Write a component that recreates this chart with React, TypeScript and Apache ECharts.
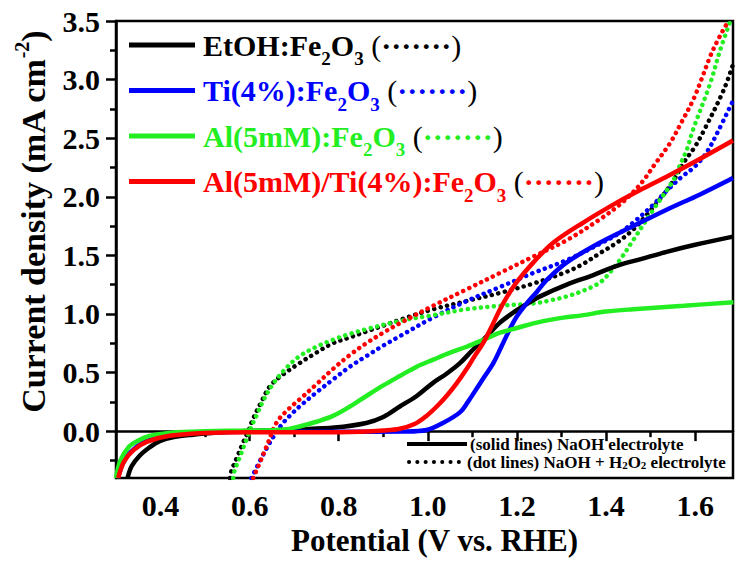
import React, { useEffect, useRef } from "react";
import * as echarts from "echarts";

const FONT = "'Liberation Serif', 'Times New Roman', serif";

const xMajorTicks = [0.4, 0.6, 0.8, 1.0, 1.2, 1.4, 1.6];
const xMinorTicks = [0.5, 0.7, 0.9, 1.1, 1.3, 1.5];
const yMajorTicks = [0.0, 0.5, 1.0, 1.5, 2.0, 2.5, 3.0, 3.5];
const yMinorTicks = [-0.25, 0.25, 0.75, 1.25, 1.75, 2.25, 2.75, 3.25];

const sampleNames = ["EtOH:Fe2O3", "Ti(4%):Fe2O3", "Al(5mM):Fe2O3", "Al(5mM)/Ti(4%):Fe2O3"];
const legendPrefix = ["EtOH:Fe", "Ti(4%):Fe", "Al(5mM):Fe", "Al(5mM)/Ti(4%):Fe"];
const colors = ["#000000", "#0000FF", "#22EE22", "#FF0000"];

// NaOH electrolyte (solid lines): [potential V vs RHE, current density mA cm^-2]
const etohNaOH = [
  [0.326, -0.4], [0.335, -0.3], [0.353, -0.21], [0.375, -0.14], [0.398, -0.085], [0.43, -0.05],
  [0.473, -0.03], [0.53, -0.012], [0.584, 0.0], [0.65, 0.008], [0.712, 0.015], [0.79, 0.03],
  [0.862, 0.07], [0.9, 0.12], [0.937, 0.21], [0.975, 0.3], [1.011, 0.41], [1.042, 0.49],
  [1.072, 0.58], [1.1, 0.69], [1.132, 0.81], [1.16, 0.92], [1.191, 1.01], [1.22, 1.08],
  [1.252, 1.15], [1.312, 1.25], [1.37, 1.33], [1.424, 1.41], [1.48, 1.47], [1.536, 1.53],
  [1.6, 1.59], [1.685, 1.66],
];
const tiNaOH = [
  [0.304, -0.4], [0.315, -0.28], [0.33, -0.19], [0.36, -0.1], [0.4, -0.05], [0.45, -0.02],
  [0.52, -0.008], [0.6, -0.005], [0.8, -0.005], [0.95, -0.003], [0.997, 0.01], [1.034, 0.07],
  [1.072, 0.16], [1.09, 0.25], [1.109, 0.36], [1.128, 0.47], [1.147, 0.58], [1.165, 0.72],
  [1.184, 0.87], [1.2, 0.98], [1.222, 1.09], [1.245, 1.19], [1.267, 1.29], [1.312, 1.44],
  [1.387, 1.61], [1.461, 1.75], [1.536, 1.89], [1.611, 2.02], [1.685, 2.16],
];
const alNaOH = [
  [0.3, -0.4], [0.31, -0.25], [0.33, -0.13], [0.35, -0.08], [0.375, -0.04], [0.41, -0.02],
  [0.435, -0.01], [0.5, 0.0], [0.6, 0.005], [0.68, 0.015], [0.712, 0.04], [0.75, 0.08],
  [0.787, 0.13], [0.825, 0.21], [0.862, 0.3], [0.9, 0.39], [0.937, 0.47], [0.975, 0.55],
  [1.012, 0.61], [1.05, 0.67], [1.087, 0.72], [1.125, 0.78], [1.162, 0.84], [1.2, 0.88],
  [1.237, 0.92], [1.29, 0.96], [1.349, 0.99], [1.4, 1.02], [1.461, 1.04], [1.574, 1.07],
  [1.686, 1.1],
];
const alTiNaOH = [
  [0.305, -0.4], [0.318, -0.26], [0.34, -0.16], [0.37, -0.09], [0.42, -0.04], [0.5, -0.015],
  [0.6, -0.01], [0.75, -0.01], [0.85, -0.005], [0.9, 0.005], [0.937, 0.02], [0.97, 0.06],
  [0.997, 0.13], [1.02, 0.21], [1.042, 0.3], [1.065, 0.41], [1.087, 0.53], [1.105, 0.64],
  [1.124, 0.75], [1.143, 0.89], [1.162, 1.04], [1.18, 1.16], [1.199, 1.27], [1.237, 1.44],
  [1.282, 1.61], [1.349, 1.78], [1.424, 1.95], [1.483, 2.07], [1.54, 2.18], [1.595, 2.29],
  [1.685, 2.48],
];

// NaOH + H2O2 electrolyte (dotted lines)
const etohH2O2 = [
  [0.556, -0.4], [0.559, -0.34], [0.572, -0.22], [0.585, -0.1], [0.597, 0.0], [0.607, 0.1],
  [0.625, 0.24], [0.645, 0.38], [0.67, 0.47], [0.712, 0.58], [0.75, 0.67], [0.787, 0.75],
  [0.825, 0.8], [0.862, 0.85], [0.9, 0.9], [0.937, 0.95], [1.012, 1.04], [1.087, 1.11],
  [1.162, 1.18], [1.237, 1.26], [1.312, 1.36], [1.35, 1.43], [1.387, 1.52], [1.425, 1.61],
  [1.461, 1.72], [1.49, 1.84], [1.521, 1.98], [1.55, 2.13], [1.574, 2.29], [1.6, 2.43],
  [1.619, 2.56], [1.664, 2.91], [1.685, 3.13],
];
const tiH2O2 = [
  [0.604, -0.4], [0.625, -0.24], [0.645, -0.1], [0.66, -0.01], [0.675, 0.07], [0.69, 0.13],
  [0.712, 0.21], [0.75, 0.33], [0.787, 0.44], [0.825, 0.55], [0.862, 0.64], [0.9, 0.73],
  [0.937, 0.81], [1.012, 0.97], [1.087, 1.11], [1.162, 1.23], [1.237, 1.35], [1.312, 1.46],
  [1.387, 1.6], [1.43, 1.69], [1.461, 1.78], [1.5, 1.91], [1.536, 2.05], [1.57, 2.17],
  [1.6, 2.26], [1.626, 2.38], [1.649, 2.54], [1.685, 2.82],
];
const alH2O2 = [
  [0.563, -0.4], [0.566, -0.34], [0.58, -0.2], [0.593, -0.07], [0.603, 0.03], [0.615, 0.13],
  [0.632, 0.27], [0.652, 0.4], [0.68, 0.53], [0.712, 0.64], [0.75, 0.72], [0.787, 0.78],
  [0.825, 0.83], [0.862, 0.87], [0.937, 0.94], [1.012, 0.99], [1.087, 1.04], [1.162, 1.07],
  [1.237, 1.09], [1.28, 1.12], [1.312, 1.15], [1.35, 1.2], [1.387, 1.27], [1.41, 1.36],
  [1.431, 1.46], [1.461, 1.63], [1.506, 1.89], [1.551, 2.14], [1.566, 2.27], [1.581, 2.4],
  [1.596, 2.58], [1.634, 2.97], [1.656, 3.25], [1.679, 3.5],
];
const alTiH2O2 = [
  [0.608, -0.4], [0.625, -0.25], [0.638, -0.13], [0.66, 0.07], [0.685, 0.18], [0.712, 0.27],
  [0.75, 0.4], [0.787, 0.53], [0.825, 0.65], [0.862, 0.75], [0.9, 0.84], [0.937, 0.92],
  [1.012, 1.07], [1.087, 1.21], [1.162, 1.35], [1.237, 1.49], [1.312, 1.63], [1.387, 1.81],
  [1.43, 1.93], [1.461, 2.04], [1.484, 2.14], [1.51, 2.28], [1.544, 2.46], [1.57, 2.64],
  [1.596, 2.83], [1.615, 3.01], [1.634, 3.2], [1.65, 3.33], [1.664, 3.43], [1.675, 3.5],
];

const solidData = [etohNaOH, tiNaOH, alNaOH, alTiNaOH];
const dottedData = [etohH2O2, tiH2O2, alH2O2, alTiH2O2];

const legendRowsY = [45, 90.5, 136, 181.5];

export default function App() {
  const ref = useRef<HTMLDivElement>(null);

  useEffect(() => {
    if (!ref.current) return;
    const chart = echarts.init(ref.current, null, { renderer: "svg" });

    const dottedSeries = dottedData.map((d, i) => ({
      name: sampleNames[i] + " (NaOH + H2O2)",
      type: "line",
      data: d,
      showSymbol: false,
      smooth: 0.35,
      z: 2,
      lineStyle: { color: colors[i], width: 4.5, type: [0.1, 6.5], cap: "round" },
    }));
    const solidSeries = solidData.map((d, i) => ({
      name: sampleNames[i] + " (NaOH)",
      type: "line",
      data: d,
      showSymbol: false,
      smooth: 0.35,
      z: 3,
      lineStyle: { color: colors[i], width: 4.5 },
    }));

    const graphics: any[] = [];
    legendRowsY.forEach((y, i) => {
      graphics.push({
        type: "line",
        shape: { x1: 129, y1: y, x2: 195, y2: y },
        style: { stroke: colors[i], lineWidth: 5 },
        z: 10,
      });
      graphics.push({
        type: "text",
        x: 203,
        y: y,
        z: 10,
        style: {
          text: `{m|${legendPrefix[i]}}{s|2}{m|O}{s|3}{g| }{p|(}{d|·······}{p|)}`,
          verticalAlign: "middle",
          fontFamily: FONT,
          fontSize: 30,
          rich: {
            m: { fill: colors[i], fontSize: 30, fontWeight: "bold", fontFamily: FONT },
            s: { fill: colors[i], fontSize: 19, fontWeight: "bold", fontFamily: FONT, padding: [27, 0, 0, 0] },
            g: { fill: "#000", fontSize: 30, fontFamily: FONT },
            p: { fill: "#000", fontSize: 30, fontWeight: "normal", fontFamily: FONT },
            d: { fill: colors[i], fontSize: 30, fontWeight: "bold", fontFamily: FONT },
          },
        },
      });
    });

    // Y axis title
    graphics.push({
      type: "text",
      x: 33,
      y: 222,
      rotation: Math.PI / 2,
      z: 10,
      style: {
        text: "{t|Current density (mA cm}{sup|-2}{t|)}",
        align: "center",
        verticalAlign: "middle",
        fontFamily: FONT,
        fontSize: 34,
        rich: {
          t: { fill: "#000", fontFamily: FONT, fontWeight: "bold", fontSize: 34 },
          sup: { fill: "#000", fontFamily: FONT, fontWeight: "bold", fontSize: 20, padding: [0, 0, 22, 0] },
        },
      },
    });

    // Electrolyte key (bottom right)
    graphics.push({
      type: "line",
      shape: { x1: 407, y1: 444, x2: 467, y2: 444 },
      style: { stroke: "#000", lineWidth: 4 },
      z: 10,
    });
    graphics.push({
      type: "line",
      shape: { x1: 409, y1: 462, x2: 459, y2: 462 },
      style: { stroke: "#000", lineWidth: 4, lineDash: [0.1, 8.2], lineCap: "round" },
      z: 10,
    });
    graphics.push({
      type: "text",
      x: 470,
      y: 444,
      z: 10,
      style: {
        text: "(solid lines) NaOH electrolyte",
        verticalAlign: "middle",
        fill: "#000",
        fontFamily: FONT,
        fontWeight: "bold",
        fontSize: 17,
      },
    });
    graphics.push({
      type: "text",
      x: 467,
      y: 462,
      z: 10,
      style: {
        text: "{n|(dot lines) NaOH + H}{s|2}{n|O}{s|2}{n| electrolyte}",
        verticalAlign: "middle",
        fontFamily: FONT,
        fontSize: 17,
        rich: {
          n: { fill: "#000", fontSize: 17, fontWeight: "bold", fontFamily: FONT },
          s: { fill: "#000", fontSize: 11, fontWeight: "bold", fontFamily: FONT, padding: [6, 0, 0, 0] },
        },
      },
    });

    const axisLineStyle = { color: "#000", width: 2.5 };
    const labelStyle = { color: "#000", fontFamily: FONT, fontWeight: "bold" as const, fontSize: 30 };

    chart.setOption({
      animation: false,
      backgroundColor: "#fff",
      grid: {
        left: 116,
        right: 2,
        top: 21,
        bottom: 91,
        show: true,
        borderColor: "#000",
        borderWidth: 2.5,
        backgroundColor: "transparent",
      },
      xAxis: [
        {
          type: "value",
          min: 0.3,
          max: 1.685,
          position: "bottom",
          splitLine: { show: false },
          axisLine: { show: true, lineStyle: axisLineStyle },
          axisTick: { show: true, customValues: xMajorTicks, length: 10, lineStyle: axisLineStyle },
          axisLabel: {
            customValues: xMajorTicks,
            formatter: (v: number) => v.toFixed(1),
            margin: 12,
            ...labelStyle,
          },
          name: "Potential (V vs. RHE)",
          nameLocation: "middle",
          nameGap: 41,
          nameTextStyle: {
            color: "#000",
            fontFamily: FONT,
            fontWeight: "bold",
            fontSize: 31,
            padding: [0, 0, 0, 20],
          },
        },
        {
          type: "value",
          min: 0.3,
          max: 1.685,
          position: "bottom",
          splitLine: { show: false },
          axisLine: { show: false },
          axisTick: { show: true, customValues: xMinorTicks, length: 6, lineStyle: axisLineStyle },
          axisLabel: { show: false },
        },
      ],
      yAxis: [
        {
          type: "value",
          min: -0.4,
          max: 3.5,
          position: "left",
          splitLine: { show: false },
          axisLine: { show: true, lineStyle: axisLineStyle },
          axisTick: { show: true, customValues: yMajorTicks, length: 10, lineStyle: axisLineStyle },
          axisLabel: {
            customValues: yMajorTicks,
            formatter: (v: number) => v.toFixed(1),
            margin: 16,
            ...labelStyle,
          },
        },
        {
          type: "value",
          min: -0.4,
          max: 3.5,
          position: "left",
          splitLine: { show: false },
          axisLine: { show: false },
          axisTick: { show: true, customValues: yMinorTicks, length: 6, lineStyle: axisLineStyle },
          axisLabel: { show: false },
        },
      ],
      series: [...dottedSeries, ...solidSeries],
      graphic: graphics,
    });

    return () => chart.dispose();
  }, []);

  return (
    <div
      ref={ref}
      style={{ position: "fixed", left: 0, top: 0, width: 735, height: 569, background: "#fff" }}
    />
  );
}
